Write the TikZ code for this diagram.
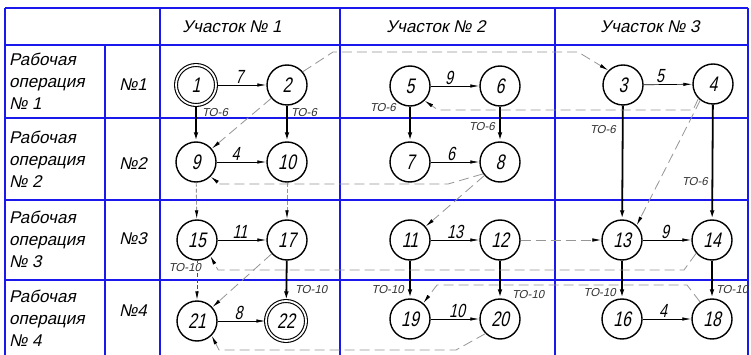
\documentclass[tikz,border=0pt]{standalone}
\usepackage{fontspec}
\usetikzlibrary{arrows.meta}
\newfontfamily\gost[FakeSlant=0.22,FakeStretch=0.75]{Liberation Sans}
\newfontfamily\gostw[FakeSlant=0.22]{Liberation Sans}
\definecolor{gridblue}{RGB}{25,25,235}
\definecolor{dashgray}{RGB}{150,150,150}
\tikzset{
  st/.style={circle,draw,line width=1.4pt,minimum size=40pt,inner sep=0pt,font=\gost\fontsize{21}{21}\selectfont},
  dst/.style={st,double,double distance=1.8pt,line width=1.1pt},
  hedge/.style={line width=0.7pt,-{Latex[length=9pt,width=3.4pt]}},
  vedge/.style={line width=1.8pt,-{Latex[length=9pt,width=4.6pt]}},
  dedge/.style={dashgray,line width=0.8pt,dash pattern=on 10pt off 5pt,-{Latex[length=9pt,width=3.6pt,color=black]}},
  tdedge/.style={dashgray,line width=0.9pt,dash pattern=on 4pt off 2pt,-{Latex[length=9pt,width=3.6pt,color=black]}},
  elab/.style={font=\gost\fontsize{19}{19}\selectfont,inner sep=1pt},
  tlab/.style={font=\gostw\fontsize{11.5}{12}\selectfont,inner sep=0pt,text=black!80},
  hdr/.style={font=\gostw\fontsize{17}{17}\selectfont,inner sep=0pt},
  rowtxt/.style={font=\gostw\fontsize{17}{22}\selectfont,align=left,anchor=west,inner sep=0pt},
  rownum/.style={font=\gostw\fontsize{17}{17}\selectfont,inner sep=0pt},
  gridline/.style={gridblue,line width=1.8pt}
}
\begin{document}
\begin{tikzpicture}[x=1pt,y=-1pt]
\fill[white] (0,0) rectangle (751,355);
\useasboundingbox (0,0) rectangle (751,355);
% grid
\foreach \yy in {8,45,118,200,280} \draw[gridline] (5,\yy) -- (748,\yy);
\foreach \xx in {5,160,340,555,748} \draw[gridline] (\xx,8) -- (\xx,355);
\draw[gridline] (105,45) -- (105,355);
% headers
\node[hdr] (h1) at (232,27) {Участок № 1};
\node[hdr] (h2) at (436,27) {Участок № 2};
\node[hdr] (h3) at (650,27) {Участок № 3};
\node[rowtxt] (r1) at (9,81.5) {Рабочая\\операция\\№ 1};
\node[rowtxt] (r2) at (9,159) {Рабочая\\операция\\№ 2};
\node[rowtxt] (r3) at (9,239) {Рабочая\\операция\\№ 3};
\node[rowtxt] (r4) at (9,318) {Рабочая\\операция\\№ 4};
\node[rownum] (k1) at (133,85) {№1};
\node[rownum] (k2) at (133,164) {№2};
\node[rownum] (k3) at (133,239) {№3};
\node[rownum] (k4) at (133,311) {№4};
% nodes
\node[dst] (n1) at (196,85) {1};
\node[st] (n2) at (287,85) {2};
\node[st] (n5) at (410,86) {5};
\node[st] (n6) at (500,86) {6};
\node[st] (n3) at (623,85) {3};
\node[st] (n4) at (713,84) {4};
\node[st] (n9) at (196,162) {9};
\node[st] (n10) at (287,162) {10};
\node[st] (n7) at (410,162) {7};
\node[st] (n8) at (500,162) {8};
\node[st] (n15) at (197,240) {15};
\node[st] (n17) at (287,240) {17};
\node[st] (n11) at (410,240) {11};
\node[st] (n12) at (500,240) {12};
\node[st] (n13) at (622,240) {13};
\node[st] (n14) at (712,240) {14};
\node[st] (n21) at (197,321) {21};
\node[dst] (n22) at (286,321) {22};
\node[st] (n19) at (410,319) {19};
\node[st] (n20) at (500,319) {20};
\node[st] (n16) at (622,319) {16};
\node[st] (n18) at (712,319) {18};
% horizontal edges
\draw[hedge] (n1) -- node[elab,above,xshift=-2pt] (l7) {7} (n2);
\draw[hedge] (n5) -- node[elab,above,xshift=-6pt] (l9a) {9} (n6);
\draw[hedge] (n3) -- node[elab,above,xshift=-8pt] (l5) {5} (n4);
\draw[hedge] (n9) -- node[elab,above,xshift=-6pt] (l4a) {4} (n10);
\draw[hedge] (n7) -- node[elab,above,xshift=-4pt] (l6) {6} (n8);
\draw[hedge] (n15) -- node[elab,above,xshift=-2pt] (l11) {11} (n17);
\draw[hedge] (n11) -- node[elab,above,xshift=0pt] (l13) {13} (n12);
\draw[dedge] (n12) -- (n13);
\draw[hedge] (n13) -- node[elab,above,xshift=-2pt] (l9b) {9} (n14);
\draw[hedge] (n21) -- node[elab,above,xshift=-3pt] (l8) {8} (n22);
\draw[hedge] (n19) -- node[elab,above,xshift=2pt] (l10) {10} (n20);
\draw[hedge] (n16) -- node[elab,above,xshift=-4pt] (l4b) {4} (n18);
% vertical edges
\draw[vedge] (n1) -- (n9);
\draw[vedge] (n2) -- (n10);
\draw[vedge] (n5) -- (n7);
\draw[vedge] (n6) -- (n8);
\draw[vedge] (n3) -- (n13);
\draw[vedge] (n4) -- (n14);
\draw[tdedge] (n9) -- (n15);
\draw[tdedge] (n10) -- (n17);
\draw[tdedge,black!70] (n15) -- (n21);
\draw[vedge] (n17) -- (n22);
\draw[vedge] (n11) -- (n19);
\draw[vedge] (n12) -- (n20);
\draw[vedge] (n13) -- (n16);
\draw[vedge] (n14) -- (n18);
% TO labels
\node[tlab,anchor=west] (t1) at (202,113) {ТО-6};
\node[tlab,anchor=west] (t2) at (291,113) {ТО-6};
\node[tlab,anchor=east] (t3) at (396,108) {ТО-6};
\node[tlab,anchor=east] (t4) at (495,127) {ТО-6};
\node[tlab,anchor=east] (t5) at (616,130) {ТО-6};
\node[tlab,anchor=east] (t6) at (708,182) {ТО-6};
\node[tlab,fill=white,inner sep=0.5pt] (t7) at (185,268) {ТО-10};
\node[tlab,anchor=west] (t8) at (295,290) {ТО-10};
\node[tlab,anchor=east] (t9) at (404,290) {ТО-10};
\node[tlab,anchor=west] (t10) at (512,295) {ТО-10};
\node[tlab,anchor=east] (t11) at (616,293) {ТО-10};
\node[tlab,anchor=west] (t12) at (716,290) {ТО-10};
% dashed routes
\coordinate (a1) at (333,52); \coordinate (a2) at (578,52);
\draw[dedge] (n2.40) -- (a1) -- (a2) -- (n3.135);
\coordinate (b1) at (693,110); \coordinate (b2) at (438,110);
\draw[dedge] (n4.225) -- (b1) -- (b2) -- (n5.-45);
\draw[dedge] (n4.232) -- (n13.45);
\draw[dedge] (n2) -- (n9);
\coordinate (e1) at (448,184); \coordinate (e2) at (220,184);
\draw[dedge] (n8.215) -- (e1) -- (e2) -- (n9.-45);
\draw[dedge] (n8) -- (n11);
\coordinate (g1) at (684,270); \coordinate (g2) at (218,270);
\draw[dedge] (n14.220) -- (g1) -- (g2) -- (n15.-50);
\draw[dedge] (n17) -- (n21);
\coordinate (j1) at (687,285); \coordinate (j2) at (437,285);
\draw[dedge] (n18.125) -- (j1) -- (j2) -- (n19.50);
\coordinate (k1c) at (456,350); \coordinate (k2c) at (219,350);
\draw[dedge] (n20.225) -- (k1c) -- (k2c) -- (n21.-45);
\end{tikzpicture}
\end{document}
